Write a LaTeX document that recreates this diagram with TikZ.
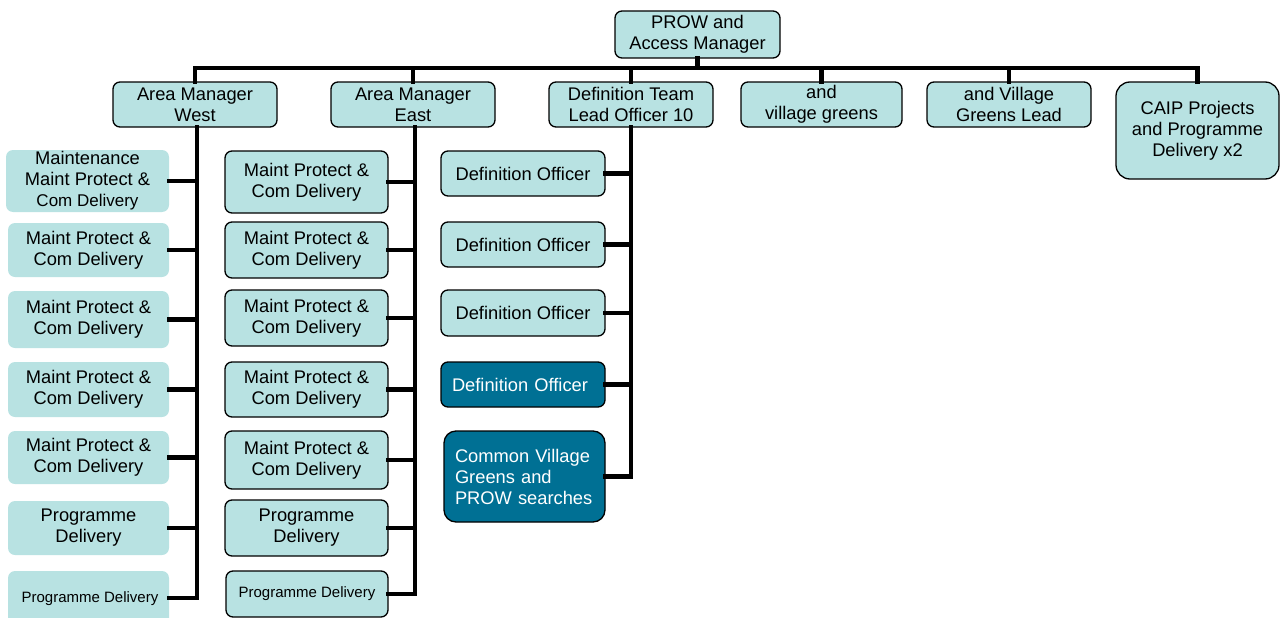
\documentclass[tikz,border=0pt]{standalone}
\usepackage{fontspec}
\setmainfont{Liberation Sans}
\definecolor{lightbox}{RGB}{184,226,226}
\definecolor{darkbox}{RGB}{0,112,148}
\tikzset{
  base/.style={rounded corners=7pt, align=center, inner sep=0pt,
    font=\fontsize{18.3}{21}\selectfont},
  lbox/.style={base, fill=lightbox, draw=black, line width=1.3pt},
  wbox/.style={base, fill=lightbox},
  dbox/.style={base, fill=darkbox, draw=black, line width=1.3pt, text=white, align=left},
  conn/.style={line width=4.8pt, line cap=rect},
  small/.style={font=\fontsize{15}{17}\selectfont}
}
\begin{document}
\begin{tikzpicture}[x=1pt,y=-1pt]
\useasboundingbox (0,0) rectangle (1282,618);
% top row
\node[lbox, minimum width=165, minimum height=47] (prow) at (697.5,34.5) {PROW and\\Access Manager};
\node[lbox, minimum width=164, minimum height=45] (amw) at (195,104.5) {Area Manager\\West};
\node[lbox, minimum width=164, minimum height=45] (ame) at (413,104.5) {Area Manager\\East};
\node[lbox, minimum width=164, minimum height=45] (dtl) at (631,104.5) {Definition Team\\Lead Officer 10};
\node[lbox, minimum width=161, minimum height=45] (avg) at (821.5,104.5) {and\\village greens};
\node[lbox, minimum width=164, minimum height=45] (avgl) at (1009,104.5) {and Village\\Greens Lead};
\node[lbox, rounded corners=14pt, minimum width=163, minimum height=97] (caip) at (1197.5,130.5) {CAIP Projects\\and Programme\\Delivery x2};
% west column
\node[wbox, minimum width=163, minimum height=62] (w1) at (87.5,181) {Maintenance\\Maint Protect \&\\{\fontsize{17}{21}\selectfont Com Delivery}};
\node[wbox, minimum width=161, minimum height=54] (w2) at (88.5,250) {Maint Protect \&\\Com Delivery};
\node[wbox, minimum width=161, minimum height=57] (w3) at (88.5,319.5) {Maint Protect \&\\Com Delivery};
\node[wbox, minimum width=161, minimum height=55] (w4) at (88.5,389.5) {Maint Protect \&\\Com Delivery};
\node[wbox, minimum width=161, minimum height=53] (w5) at (88.5,457.5) {Maint Protect \&\\Com Delivery};
\node[wbox, minimum width=161, minimum height=54] (w6) at (88.5,528) {Programme\\Delivery};
\node[wbox, minimum width=161, minimum height=54] (w7) at (88.5,598) {};
\node[small] (w7t) at (90,599) {Programme Delivery};
% east column
\node[lbox, minimum width=163, minimum height=62] (e1) at (306.5,182) {Maint Protect \&\\Com Delivery};
\node[lbox, minimum width=163, minimum height=56] (e2) at (306.5,250) {Maint Protect \&\\Com Delivery};
\node[lbox, minimum width=163, minimum height=56] (e3) at (306.5,318) {Maint Protect \&\\Com Delivery};
\node[lbox, minimum width=163, minimum height=55] (e4) at (306.5,389.5) {Maint Protect \&\\Com Delivery};
\node[lbox, minimum width=163, minimum height=58] (e5) at (306.5,460) {Maint Protect \&\\Com Delivery};
\node[lbox, minimum width=163, minimum height=56] (e6) at (306.5,528) {Programme\\Delivery};
\node[lbox, small, minimum width=162, minimum height=46] (e7) at (307,594) {Programme Delivery};
% definition column
\node[lbox, minimum width=164, minimum height=45] (d1) at (523,173.5) {Definition Officer};
\node[lbox, minimum width=164, minimum height=45] (d2) at (523,244.5) {Definition Officer};
\node[lbox, minimum width=164, minimum height=46] (d3) at (523,313) {Definition Officer};
\node[dbox, inner xsep=11pt, text width=142pt, minimum height=45] (d4) at (523,384.5) {Definition Officer};
\node[dbox, rounded corners=12pt, inner xsep=11pt, text width=139pt, minimum height=91] (d5) at (524.5,476.5) {Common Village\\Greens and\\PROW searches};
% connectors
\coordinate (bus) at (0,68);
\draw[conn] (amw.north) -- (amw.north |- bus) -- (caip.north |- bus) -- (caip.north);
\draw[conn] (prow.south) -- (prow.south |- bus);
\draw[conn] (ame.north) -- (ame.north |- bus);
\draw[conn] (dtl.north) -- (dtl.north |- bus);
\draw[conn] (avg.north) -- (avg.north |- bus);
\draw[conn] (avgl.north) -- (avgl.north |- bus);
% west
\coordinate (wx) at (197,0);
\draw[conn] (wx |- amw.south) -- (wx |- w7.east);
\foreach \n in {w1,w2,w3,w4,w5,w6,w7} { \draw[conn] (\n.east) -- (\n.east -| wx); }
% east
\coordinate (ex) at (415,0);
\draw[conn] (ex |- ame.south) -- (ex |- e7.east);
\foreach \n in {e1,e2,e3,e4,e5,e6,e7} { \draw[conn] (\n.east) -- (\n.east -| ex); }
% definition
\coordinate (dx) at (631,0);
\draw[conn] (dx |- dtl.south) -- (dx |- d5.east);
\foreach \n in {d1,d2,d3,d4,d5} { \draw[conn] (\n.east) -- (\n.east -| dx); }
\end{tikzpicture}
\end{document}
